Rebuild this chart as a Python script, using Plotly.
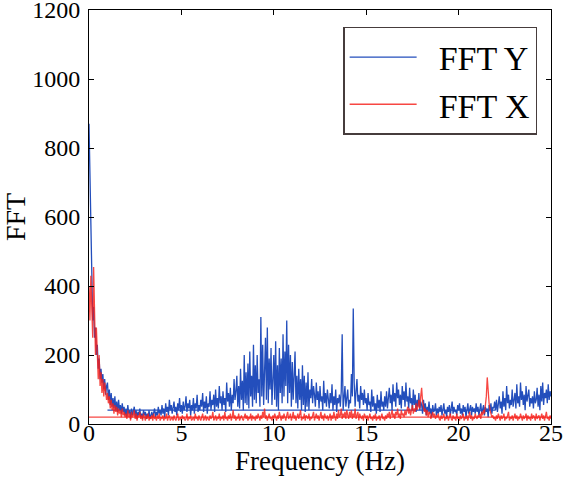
import plotly.graph_objects as go

# Frequency grid (Hz), 0.05 Hz spacing, 0..25 Hz
freq_step = 0.05
n_points = 501
freq = [round(i * freq_step, 2) for i in range(n_points)]

# FFT of Y (blue) - one row per Hz
fft_y = [
    870, 700, 520, 390, 300, 340, 250, 280, 200, 230, 160, 190, 130, 160, 120, 145, 100, 130, 85, 110,
    120, 70, 100, 55, 90, 50, 75, 45, 80, 40, 65, 35, 70, 40, 55, 30, 60, 35, 50, 25,
    45, 20, 55, 30, 40, 15, 45, 25, 35, 50, 20, 40, 15, 35, 25, 45, 20, 30, 15, 40,
    25, 35, 15, 30, 20, 40, 15, 25, 35, 20, 30, 45, 20, 35, 25, 50, 30, 40, 25, 55,
    30, 45, 20, 60, 35, 50, 25, 70, 40, 55, 30, 45, 65, 35, 50, 25, 60, 40, 75, 35,
    55, 30, 65, 40, 50, 80, 35, 60, 45, 70, 25, 55, 40, 75, 30, 60, 45, 85, 35, 55,
    40, 70, 50, 90, 35, 65, 45, 80, 30, 60, 50, 95, 40, 70, 55, 85, 35, 100, 50, 75,
    45, 110, 60, 80, 40, 95, 55, 75, 35, 120, 65, 90, 50, 105, 40, 85, 60, 130, 70, 95,
    140, 50, 110, 45, 160, 70, 125, 40, 200, 60, 150, 55, 175, 45, 210, 80, 140, 50, 230, 70,
    170, 60, 200, 90, 130, 50, 310, 80, 230, 55, 180, 250, 70, 280, 60, 190, 100, 220, 55, 175,
    200, 70, 240, 50, 170, 40, 220, 90, 190, 60, 260, 80, 210, 110, 300, 60, 230, 90, 200, 50,
    180, 70, 150, 210, 60, 140, 45, 160, 70, 130, 40, 170, 55, 140, 35, 120, 50, 150, 40, 100,
    75, 130, 60, 110, 85, 50, 120, 70, 95, 45, 110, 65, 80, 40, 125, 60, 90, 50, 100, 70,
    45, 90, 60, 115, 40, 80, 55, 100, 35, 75, 60, 85, 50, 95, 260, 40, 65, 110, 50, 80,
    100, 45, 70, 60, 145, 80, 335, 120, 50, 95, 130, 65, 85, 45, 110, 70, 90, 55, 100, 60,
    75, 40, 90, 55, 65, 35, 100, 50, 80, 40, 60, 30, 85, 45, 70, 35, 95, 50, 65, 40,
    80, 50, 95, 45, 70, 105, 60, 85, 40, 115, 65, 90, 50, 120, 75, 100, 55, 85, 45, 110,
    70, 95, 50, 120, 65, 80, 45, 105, 60, 75, 40, 100, 55, 85, 35, 70, 50, 90, 40, 65,
    55, 30, 70, 40, 60, 25, 50, 35, 65, 30, 45, 20, 55, 35, 40, 60, 25, 45, 30, 50,
    35, 55, 25, 45, 60, 30, 40, 20, 50, 35, 55, 25, 45, 65, 30, 50, 35, 40, 25, 55,
    40, 60, 30, 45, 25, 55, 35, 50, 20, 45, 60, 30, 40, 55, 25, 50, 35, 45, 30, 60,
    35, 50, 25, 45, 60, 30, 40, 55, 25, 50, 35, 45, 20, 55, 40, 60, 30, 50, 45, 65,
    40, 70, 35, 55, 80, 45, 65, 30, 95, 50, 75, 40, 110, 60, 85, 45, 70, 55, 100, 50,
    65, 90, 45, 115, 60, 80, 50, 120, 70, 95, 55, 85, 40, 110, 65, 90, 100, 50, 75, 60,
    80, 45, 95, 60, 70, 105, 50, 85, 40, 110, 65, 120, 55, 90, 75, 100, 60, 115, 70, 95,
    80,
]

# FFT of X (red) - one row per Hz
fft_x = [
    400, 300, 430, 350, 250, 455, 300, 200, 280, 180, 130, 200, 110, 150, 90, 130, 80, 120, 100, 70,
    90, 60, 80, 45, 70, 40, 60, 30, 55, 35, 50, 25, 45, 30, 40, 20, 45, 25, 35, 20,
    30, 15, 40, 20, 30, 10, 35, 20, 25, 40, 15, 30, 10, 25, 20, 35, 15, 25, 10, 30,
    20, 10, 25, 15, 30, 10, 20, 15, 25, 10, 30, 15, 20, 10, 25, 15, 30, 10, 20, 15,
    25, 10, 20, 15, 30, 10, 20, 25, 10, 15, 20, 10, 25, 15, 10, 20, 30, 10, 15, 20,
    10, 25, 15, 20, 10, 15, 30, 10, 20, 15, 25, 10, 15, 20, 10, 30, 15, 20, 10, 25,
    15, 10, 20, 30, 10, 15, 25, 10, 20, 15, 10, 25, 15, 20, 35, 10, 15, 25, 10, 20,
    15, 30, 10, 20, 15, 25, 10, 35, 15, 20, 10, 25, 15, 30, 10, 20, 40, 15, 25, 10,
    20, 15, 30, 10, 20, 25, 15, 10, 20, 30, 15, 25, 10, 20, 15, 30, 10, 25, 15, 20,
    10, 25, 15, 30, 20, 10, 25, 15, 35, 20, 45, 15, 25, 10, 20, 30, 15, 20, 10, 25,
    15, 30, 20, 10, 25, 15, 35, 20, 10, 25, 15, 30, 20, 10, 25, 35, 15, 20, 30, 10,
    20, 35, 15, 25, 10, 20, 30, 15, 25, 40, 10, 20, 15, 30, 10, 25, 20, 15, 30, 10,
    20, 15, 25, 35, 10, 20, 30, 15, 25, 10, 20, 35, 15, 25, 10, 30, 20, 15, 25, 10,
    20, 30, 10, 25, 15, 35, 20, 10, 30, 15, 40, 20, 25, 45, 15, 30, 20, 35, 15, 40,
    25, 15, 35, 20, 40, 15, 30, 20, 45, 15, 25, 35, 10, 30, 20, 15, 25, 10, 30, 20,
    15, 25, 10, 20, 30, 15, 20, 10, 25, 15, 30, 10, 20, 15, 25, 10, 20, 30, 15, 20,
    10, 25, 15, 30, 20, 35, 15, 25, 40, 20, 30, 15, 35, 25, 45, 20, 30, 15, 40, 25,
    30, 20, 40, 25, 35, 50, 30, 45, 25, 40, 55, 30, 45, 35, 60, 40, 50, 70, 45, 80,
    105, 65, 50, 35, 45, 25, 40, 20, 35, 30, 15, 25, 35, 20, 30, 15, 25, 20, 30, 15,
    10, 25, 15, 20, 30, 10, 20, 15, 25, 10, 20, 30, 15, 10, 25, 15, 20, 10, 30, 15,
    20, 10, 25, 15, 20, 30, 10, 20, 15, 25, 10, 20, 35, 15, 25, 10, 20, 15, 30, 20,
    15, 25, 20, 30, 15, 35, 25, 40, 30, 55, 80, 135, 90, 60, 40, 30, 20, 25, 15, 20,
    10, 25, 15, 30, 20, 10, 25, 15, 20, 30, 10, 20, 15, 25, 35, 10, 20, 15, 25, 10,
    20, 30, 15, 25, 10, 20, 15, 30, 20, 10, 25, 15, 20, 30, 10, 25, 15, 20, 10, 30,
    15, 25, 20, 10, 30, 15, 20, 25, 10, 20, 30, 15, 25, 10, 20, 35, 15, 20, 10, 25,
    15,
]

# Wrap-around segments (the line returning across the spectrum)
wrap_y_freq = [1.0, 22.0]
wrap_y_val = [40, 40]
wrap_x_freq = [0.0, 25.0]
wrap_x_val = [20, 20]

series_names = ["FFT Y", "FFT X"]
x_ticks = [0, 5, 10, 15, 20, 25]
y_ticks = [0, 200, 400, 600, 800, 1000, 1200]

blue = "rgb(35,78,188)"
red = "rgba(245,30,25,0.82)"
font_family = "Liberation Serif, DejaVu Serif, serif"
legend_pad = "\u00a0\u00a0"

fig = go.Figure()
fig.add_trace(go.Scatter(x=wrap_y_freq, y=wrap_y_val, mode="lines",
                         line=dict(color=blue, width=1.2), showlegend=False, hoverinfo="skip"))
fig.add_trace(go.Scatter(x=freq, y=fft_y, mode="lines", name=legend_pad + series_names[0],
                         line=dict(color=blue, width=1.3)))
fig.add_trace(go.Scatter(x=wrap_x_freq, y=wrap_x_val, mode="lines",
                         line=dict(color=red, width=1.2), showlegend=False, hoverinfo="skip"))
fig.add_trace(go.Scatter(x=freq, y=fft_x, mode="lines", name=legend_pad + series_names[1],
                         line=dict(color=red, width=1.3)))

axis_common = dict(
    showline=True, linecolor="black", linewidth=1, mirror="ticks",
    ticks="inside", ticklen=5, tickcolor="black", showgrid=False, zeroline=False,
    tickfont=dict(family=font_family, size=24, color="black"),
    automargin=False, ticklabeloverflow="allow",
)

fig.update_layout(
    width=564, height=479,
    margin=dict(l=89, r=13, t=10, b=55),
    paper_bgcolor="white", plot_bgcolor="white",
    font=dict(family=font_family, color="black"),
    xaxis=dict(range=[0, 25], tickvals=x_ticks, ticktext=[str(t) for t in x_ticks],
               title=dict(text="Frequency (Hz)", font=dict(family=font_family, size=27), standoff=4),
               ticklabelstandoff=-13,
               **axis_common),
    yaxis=dict(range=[0, 1200], tickvals=y_ticks, ticktext=[str(t) for t in y_ticks],
               title=dict(text="FFT", font=dict(family=font_family, size=28)),
               ticklabelstandoff=3,
               **axis_common),
    legend=dict(x=0.97, xanchor="right", y=0.959, yanchor="top",
                bordercolor="rgb(70,60,60)", borderwidth=1.5, bgcolor="white",
                font=dict(family=font_family, size=34, color="black"),
                itemwidth=67),
    showlegend=True,
)

fig.write_html("out.html", config={"displayModeBar": False},
               post_script="document.body.style.margin='0px';")
